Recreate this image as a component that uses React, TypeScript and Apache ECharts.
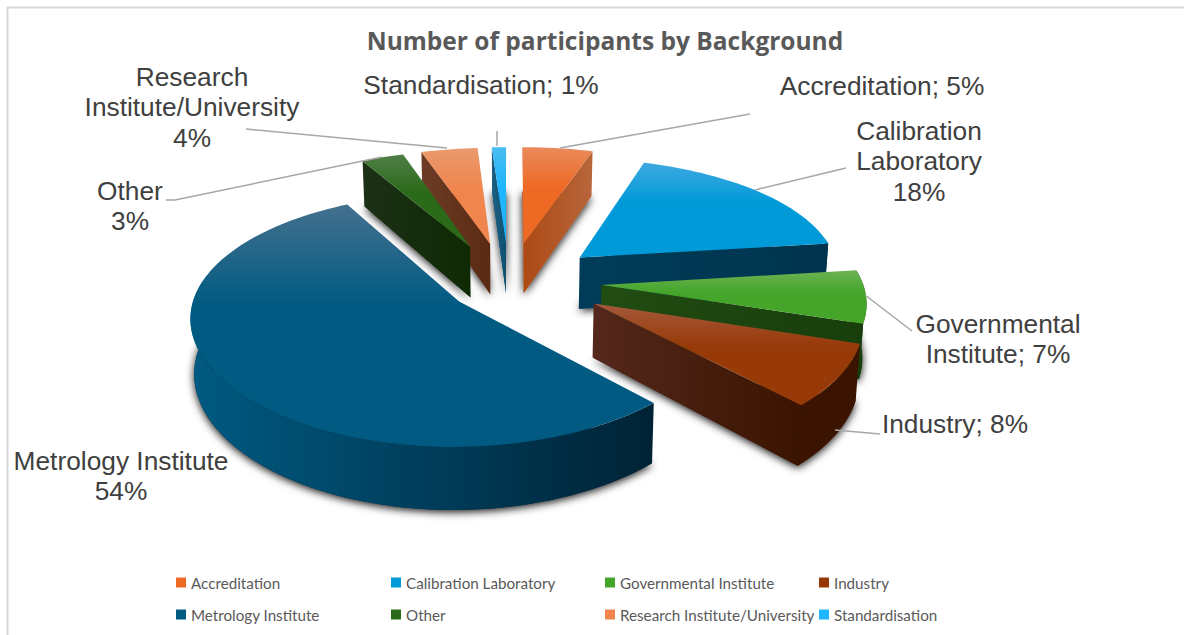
import React, { useEffect, useRef } from "react";
import * as echarts from "echarts";

const chartTitle = "Number of participants by Background";
const categories = [
  "Accreditation",
  "Calibration Laboratory",
  "Governmental Institute",
  "Industry",
  "Metrology Institute",
  "Other",
  "Research Institute/University",
  "Standardisation",
];
const percentages = [5, 18, 7, 8, 54, 3, 4, 1];

// Label text as it wraps in the picture; "%" is added from the values.
const labelPrefixes = [
  "Accreditation; ",
  "Calibration\nLaboratory\n",
  "Governmental\nInstitute; ",
  "Industry; ",
  "Metrology Institute\n",
  "Other\n",
  "Research\nInstitute/University\n",
  "Standardisation; ",
];
const labelCentres = [
  [882, 86],
  [919, 161],
  [998, 339],
  [955, 424],
  [121, 476],
  [130, 206],
  [192, 107],
  [481, 85],
];
const leaderLines = [
  [[750, 114], [560, 148]],
  [[846, 168], [755, 190]],
  [[912, 331], [865, 295]],
  [[880, 434], [835, 430]],
  [],
  [[166, 200], [175, 200], [382, 157]],
  [[246, 129], [447, 148]],
  [[497, 131], [497, 146]],
];

const topColours = [
  ["#E98A5C", "#EE6A24"],
  ["#3EA9E0", "#009AD8"],
  ["#6CB254", "#45A52A"],
  ["#A55A3C", "#983A08"],
  ["#44708E", "#005A82"],
  ["#4F7F46", "#2B6A18"],
  ["#EA9A6E", "#F0854E"],
  ["#4ABDF0", "#1FB6FF"],
];
const wallColours = [
  ["#AC4A14", "#B8663C"],
  ["#003C58", "#00344E"],
  ["#214C12", "#183E0C"],
  ["#54281C", "#3A1400"],
  ["#005A82", "#002235"],
  ["#1C3016", "#0E2A04"],
  ["#6E3C26", "#5A2A12"],
  ["#1C6084", "#0F5070"],
];
const legendSwatches = ["#EE6A24", "#009AD8", "#45A52A", "#983A08", "#005A82", "#2B6A18", "#F0854E", "#1FB6FF"];

// Explosion of each slice on the pie's plane, in units of the radius.
const explodeOffsets = [
  [0.067, 0.369],
  [0.285, 0.237],
  [0.36, 0.0],
  [0.325, -0.15],
  [-0.18, -0.135],
  [-0.146, 0.333],
  [-0.067, 0.36],
  [-0.004, 0.369],
];
const paintOrder = [6, 7, 0, 5, 1, 2, 3, 4];

const CENTRE_X = 507;
const CENTRE_Y = 285;
const RADIUS_X = 262;
const RADIUS_Y = 120;
const DEPTH = 53;
const PERSPECTIVE_X = 0.115;
const PERSPECTIVE_Y = 0.14;
const BASE_NARROWING = 0.012;

const startPercent = percentages.map((_, i) => percentages.slice(0, i).reduce((a, b) => a + b, 0));
const total = percentages.reduce((a, b) => a + b, 0);

function project(u: number, v: number, lowered: number) {
  const sx = 1 / (1 + PERSPECTIVE_X * v);
  const sy = 1 / (1 + PERSPECTIVE_Y * v);
  return [
    CENTRE_X + u * RADIUS_X * sx * (1 - BASE_NARROWING * lowered),
    CENTRE_Y - v * RADIUS_Y * sy + lowered * DEPTH * sy,
  ];
}

function arcPoints(ou: number, ov: number, from: number, to: number, lowered: number) {
  const pts: number[][] = [];
  const steps = Math.max(2, Math.ceil(Math.abs(to - from) / 0.03));
  for (let i = 0; i <= steps; i++) {
    const t = from + ((to - from) * i) / steps;
    pts.push(project(ou + Math.sin(t), ov + Math.cos(t), lowered));
  }
  return pts;
}

function sliceRenderer(index: number) {
  return (_params: any, api: any) => {
    const value = api.value(0);
    const a0 = (startPercent[index] / total) * Math.PI * 2;
    const a1 = a0 + (value / total) * Math.PI * 2;
    const [ou, ov] = explodeOffsets[index];
    const [topLight, topBase] = topColours[index];
    const wallFill = new echarts.graphic.LinearGradient(0, 0, 1, 0, [
      { offset: 0, color: wallColours[index][0] },
      { offset: 1, color: wallColours[index][1] },
    ]);
    const topFill = new echarts.graphic.LinearGradient(0, 0, 0, 1, [
      { offset: 0, color: topLight },
      { offset: 0.42, color: topBase },
      { offset: 1, color: topBase },
    ]);
    const apexTop = project(ou, ov, 0);
    const apexBase = project(ou, ov, 1);
    const children: any[] = [];
    let z2 = 1;
    const poly = (points: number[][], style: any) =>
      children.push({ type: "polygon", z2: z2++, shape: { points }, style });

    poly([apexBase, ...arcPoints(ou, ov, a0, a1, 1)], {
      fill: wallColours[index][1],
      shadowBlur: 9,
      shadowColor: "rgba(0,0,0,0.95)",
      shadowOffsetX: 0,
      shadowOffsetY: 2,
    });

    const face = (angle: number) => {
      const rimTop = project(ou + Math.sin(angle), ov + Math.cos(angle), 0);
      const rimBase = project(ou + Math.sin(angle), ov + Math.cos(angle), 1);
      poly([apexTop, rimTop, rimBase, apexBase], { fill: wallFill });
    };
    if (Math.sin(a0) < -1e-3) face(a0);
    if (Math.sin(a1) > 1e-3) face(a1);

    const wallFrom = Math.max(a0, (80 * Math.PI) / 180);
    const wallTo = Math.min(a1, (280 * Math.PI) / 180);
    if (wallTo > wallFrom) {
      const wideArc = wallTo - wallFrom > Math.PI / 2;
      poly([...arcPoints(ou, ov, wallFrom, wallTo, 0), ...arcPoints(ou, ov, wallTo, wallFrom, 1)], {
        fill: wideArc ? wallFill : wallColours[index][1],
      });
    }

    poly([apexTop, ...arcPoints(ou, ov, a0, a1, 0)], { fill: topFill });
    return { type: "group", children };
  };
}

const LABEL_FONT = '26.3px "Liberation Sans", Arial, sans-serif';

export default function App() {
  const ref = useRef<HTMLDivElement>(null);

  useEffect(() => {
    document.body.style.margin = "0";
    const chart = echarts.init(ref.current!, null, { renderer: "svg" });

    const labelElements = categories.map((_, i) => ({
      type: "text",
      z: 20,
      x: labelCentres[i][0],
      y: labelCentres[i][1],
      style: {
        text: `${labelPrefixes[i]}${percentages[i]}%`,
        align: "center",
        verticalAlign: "middle",
        font: LABEL_FONT,
        lineHeight: 30.5,
        fill: "#404040",
      },
    }));
    const leaderElements = leaderLines
      .filter((l) => l.length > 0)
      .map((points) => ({
        type: "polyline",
        z: 19,
        shape: { points },
        style: { stroke: "#A6A6A6", lineWidth: 1.5, fill: "none" },
      }));

    const legendColumns = [176, 391, 605, 819];
    const legendRows = [575, 607];

    chart.setOption({
      animation: false,
      backgroundColor: "#ffffff",
      title: {
        text: chartTitle,
        left: 600,
        top: 23,
        textAlign: "center",
        textStyle: {
          fontFamily: '"Open Sans", sans-serif',
          fontSize: 24.5,
          fontWeight: "bold",
          color: "#595959",
        },
      },
      legend: categories.map((name, i) => ({
        left: legendColumns[i % 4],
        top: legendRows[Math.floor(i / 4)],
        padding: 0,
        itemWidth: 10,
        itemHeight: 10,
        icon: "rect",
        selectedMode: false,
        textStyle: { fontFamily: "Lato, sans-serif", fontSize: 15.2, color: "#595959" },
        data: [{ name, itemStyle: { color: legendSwatches[i] } }],
      })),
      graphic: {
        elements: [
          { type: "line", shape: { x1: 7, y1: 7.5, x2: 1184, y2: 7.5 }, style: { stroke: "#D9D9D9", lineWidth: 2 } },
          { type: "line", shape: { x1: 7.5, y1: 7, x2: 7.5, y2: 635 }, style: { stroke: "#D9D9D9", lineWidth: 2 } },
          ...leaderElements,
          ...labelElements,
        ],
      },
      series: paintOrder.map((i) => ({
        type: "custom",
        name: categories[i],
        coordinateSystem: "none",
        silent: true,
        itemStyle: { color: legendSwatches[i] },
        renderItem: sliceRenderer(i),
        data: [{ name: categories[i], value: [percentages[i]] }],
      })),
    });

    return () => chart.dispose();
  }, []);

  return <div ref={ref} style={{ position: "fixed", left: 0, top: 0, width: 1184, height: 635 }} />;
}
